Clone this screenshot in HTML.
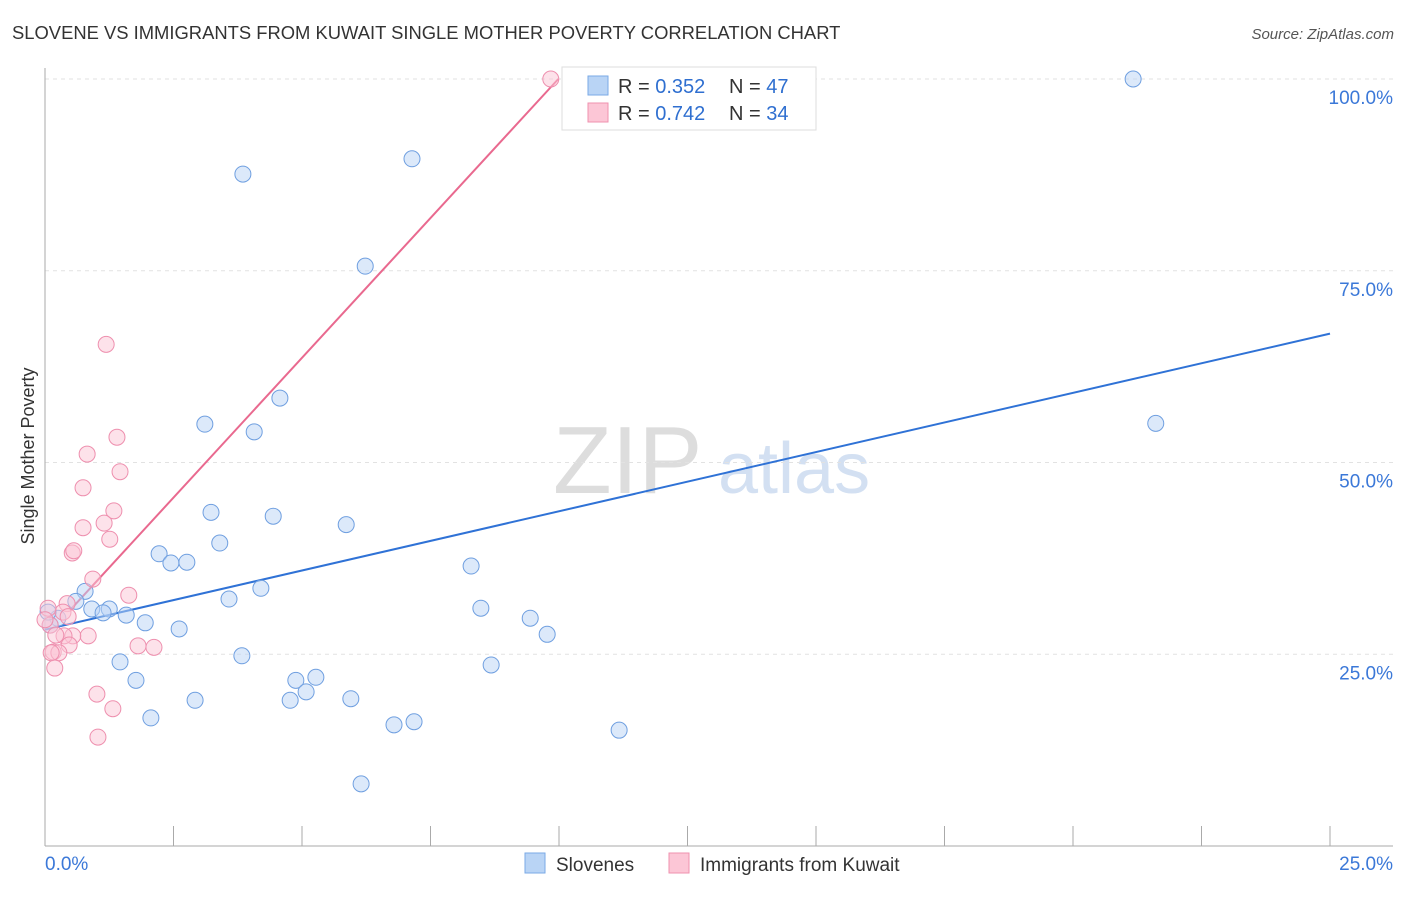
<!DOCTYPE html>
<html><head><meta charset="utf-8">
<style>
body{margin:0;background:#fff;font-family:"Liberation Sans",sans-serif;}
svg text{font-family:"Liberation Sans",sans-serif;}
</style></head>
<body>
<svg id="chart" width="1406" height="892" xmlns="http://www.w3.org/2000/svg">
<text x="12" y="39" font-size="18.4" fill="#333">SLOVENE VS IMMIGRANTS FROM KUWAIT SINGLE MOTHER POVERTY CORRELATION CHART</text>
<text x="1394" y="39" font-size="15" fill="#555" text-anchor="end" font-style="italic">Source: ZipAtlas.com</text>
<g>
<text x="553" y="493" font-size="96" fill="#ddd" font-family="Liberation Serif,serif">ZIP</text>
<text x="718" y="493" font-size="72" fill="#c9d9ef" opacity="0.8">atlas</text>
</g>
<g id="grid"></g>
<g id="axes"></g>
<g id="lines"></g>
<g id="points"></g>
<text transform="translate(34,456) rotate(-90)" font-size="18" fill="#333" text-anchor="middle">Single Mother Poverty</text>
<g>
<rect x="562" y="67" width="254" height="63" fill="#fff" stroke="#ddd"/>
<rect x="588" y="76" width="20" height="19" fill="#b9d4f5" stroke="#7aaae6"/>
<text x="618" y="93" font-size="20" fill="#333">R = <tspan fill="#2f6fd0">0.352</tspan></text>
<text x="729" y="93" font-size="20" fill="#333">N = <tspan fill="#2f6fd0">47</tspan></text>
<rect x="588" y="103" width="20" height="19" fill="#fcc6d6" stroke="#ef92af"/>
<text x="618" y="120" font-size="20" fill="#333">R = <tspan fill="#2f6fd0">0.742</tspan></text>
<text x="729" y="120" font-size="20" fill="#333">N = <tspan fill="#2f6fd0">34</tspan></text>
</g>
<g>
<rect x="525" y="853" width="20" height="20" fill="#b9d4f5" stroke="#7aaae6"/>
<text x="556" y="871" font-size="19" fill="#333">Slovenes</text>
<rect x="669" y="853" width="20" height="20" fill="#fcc6d6" stroke="#ef92af"/>
<text x="700" y="871" font-size="19" fill="#333">Immigrants from Kuwait</text>
</g>
</svg>
<script>
const blueX=[21.17,7.14,3.85,6.23,4.57,3.11,4.07,21.61,3.23,4.44,5.86,3.40,2.22,2.45,2.76,8.29,4.20,0.78,0.60,3.58,0.91,1.25,1.13,1.58,8.48,9.44,1.95,2.61,9.77,0.25,0.10,3.83,1.46,8.68,1.77,4.88,5.27,5.08,4.77,2.92,5.95,2.06,6.79,7.18,11.17,6.15,0.06];
const blueY=[100,89.6,87.6,75.6,58.4,55.0,54.0,55.1,43.5,43.0,41.9,39.5,38.1,36.9,37.0,36.5,33.6,33.2,31.9,32.2,30.9,30.9,30.4,30.1,31.0,29.7,29.1,28.3,27.6,29.7,28.8,24.8,24.0,23.6,21.6,21.6,22.0,20.1,19.0,19.0,19.2,16.7,15.8,16.2,15.1,8.1,30.5];
const pinkX=[9.84,1.19,1.40,0.82,1.46,0.74,1.34,1.15,0.74,1.26,0.53,0.56,0.93,1.63,0.43,0.35,0.06,0.45,0.84,0.54,0.37,1.81,2.12,0.47,0.16,0.27,0.12,0.19,1.01,1.32,1.03,0.10,0.21,0.0];
const pinkY=[100,65.4,53.3,51.1,48.8,46.7,43.7,42.1,41.5,40.0,38.2,38.5,34.8,32.7,31.6,30.5,31.0,29.9,27.4,27.4,27.4,26.1,25.9,26.2,25.3,25.2,25.2,23.2,19.8,17.9,14.2,28.8,27.5,29.5];
const blueTrend=[28.2,66.8];
const pinkTrend=[27.2,7.29];
const yTicks=[25,50,75,100];
const yTickLabels=["25.0%","50.0%","75.0%","100.0%"];
const xTicks=[0,2.5,5,7.5,10,12.5,15,17.5,20,22.5,25];

const NS="http://www.w3.org/2000/svg";
const sx=v=>45+v*51.4;
const sy=v=>846-v*7.67;
function mk(tag,attrs,parent){const e=document.createElementNS(NS,tag);for(const k in attrs)e.setAttribute(k,attrs[k]);document.getElementById(parent).appendChild(e);return e;}
yTicks.forEach((t,i)=>{
  const l=mk('line',{x1:45,x2:1393,y1:sy(t),y2:sy(t),stroke:'#e2e2e2','stroke-dasharray':'4,4'},'grid');
  
  
  const tx=mk('text',{x:1393,y:sy(t)+25,'font-size':19,fill:'#3b78d8','text-anchor':'end'},'grid');
  tx.textContent=yTickLabels[i];
  
  
});
const ax=mk('line',{x1:45,x2:1393,y1:846,y2:846,stroke:'#aaa'},'axes');


const ay=mk('line',{x1:45,x2:45,y1:68,y2:846,stroke:'#aaa'},'axes');


xTicks.forEach(t=>{
  const l=mk('line',{x1:sx(t),x2:sx(t),y1:826,y2:846,stroke:'#aaa'},'axes');
  
  
});
const x0=mk('text',{x:45,y:870,'font-size':19,fill:'#3b78d8'},'axes');x0.textContent='0.0%';


const x1=mk('text',{x:1393,y:870,'font-size':19,fill:'#3b78d8','text-anchor':'end'},'axes');x1.textContent='25.0%';



function dots(xs,ys,fill,stroke,name){
  xs.forEach((x,i)=>{
    const c=mk('circle',{cx:sx(x),cy:sy(ys[i]),r:8,fill:fill,'fill-opacity':0.5,stroke:stroke,'stroke-width':1},'points');
    
    
  });
}
dots(blueX,blueY,'#b9d4f5','#6f9fe0','point-slovenes');
dots(pinkX,pinkY,'#fcc6d6','#ee8fae','point-kuwait');

const bl=mk('line',{x1:sx(0),y1:sy(blueTrend[0]),x2:sx(25),y2:sy(blueTrend[1]),stroke:'#2f72d6','stroke-width':2},'lines');


const xEnd=(100-pinkTrend[0])/pinkTrend[1];
const pl=mk('line',{x1:sx(0.5),y1:sy(pinkTrend[0]+pinkTrend[1]*0.5),x2:sx(xEnd),y2:sy(100),stroke:'#e9698f','stroke-width':2},'lines');


</script>
</body></html>
